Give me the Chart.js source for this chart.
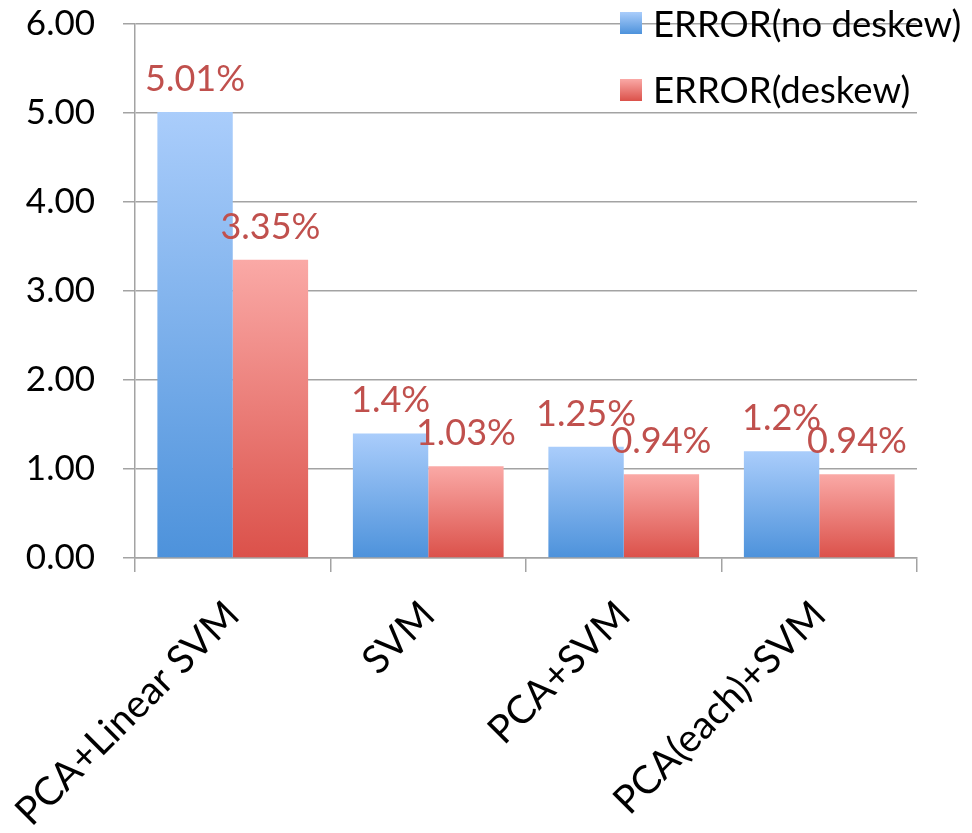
<!DOCTYPE html>
<html>
<head>
<meta charset="utf-8">
<script src="https://cdn.jsdelivr.net/npm/chart.js@4"></script>
<style>
  html, body { margin: 0; padding: 0; background: #ffffff; }
  #wrap { width: 972px; height: 833px; }
</style>
</head>
<body>
<div id="wrap"><canvas id="c" width="972" height="833"></canvas></div>
<script>
// Error rates (%) per classifier, without and with deskewing
const categories = ['PCA+Linear SVM', 'SVM', 'PCA+SVM', 'PCA(each)+SVM'];
const errorNoDeskew = [5.01, 1.4, 1.25, 1.2];
const errorDeskew = [3.35, 1.03, 0.94, 0.94];
const seriesNames = ['ERROR(no deskew)', 'ERROR(deskew)'];
const yTicks = [0, 1, 2, 3, 4, 5, 6];

const FONT = 'Lato, "Open Sans", sans-serif';
const palettes = [
  { top: '#aacdfb', bottom: '#4d92db' },
  { top: '#faa9a6', bottom: '#db514a' }
];
const labelColor = '#c0504d';
const gridColor = '#a3a3a3';

// vertical gradient from the top of each bar down to the baseline
function barFill(dsIndex) {
  return function (ctx) {
    const chart = ctx.chart;
    const area = chart.chartArea;
    if (!area || ctx.parsed === undefined) return palettes[dsIndex].bottom;
    const y = chart.scales.y;
    const top = y.getPixelForValue(ctx.parsed.y);
    const base = y.getPixelForValue(0);
    const g = chart.ctx.createLinearGradient(0, top, 0, base);
    g.addColorStop(0, palettes[dsIndex].top);
    g.addColorStop(1, palettes[dsIndex].bottom);
    return g;
  };
}

// percentage text above every bar
const valueLabels = {
  id: 'valueLabels',
  afterDatasetsDraw(chart) {
    const ctx = chart.ctx;
    ctx.save();
    ctx.font = '36px ' + FONT;
    ctx.fillStyle = labelColor;
    ctx.textAlign = 'center';
    ctx.textBaseline = 'alphabetic';
    chart.data.datasets.forEach((ds, i) => {
      chart.getDatasetMeta(i).data.forEach((bar, j) => {
        ctx.fillText(String(ds.data[j]) + '%', bar.x, bar.y - 21);
      });
    });
    ctx.restore();
  }
};

// legend drawn over the top right of the plot
const overlayLegend = {
  id: 'overlayLegend',
  afterDraw(chart) {
    const ctx = chart.ctx;
    ctx.save();
    ctx.font = '36.5px ' + FONT;
    ctx.textAlign = 'left';
    ctx.textBaseline = 'alphabetic';
    const rows = [{ box: 12, base: 37 }, { box: 79, base: 103 }];
    chart.data.datasets.forEach((ds, i) => {
      const r = rows[i];
      const g = ctx.createLinearGradient(0, r.box, 0, r.box + 22);
      g.addColorStop(0, palettes[i].top);
      g.addColorStop(1, palettes[i].bottom);
      ctx.fillStyle = g;
      ctx.fillRect(620, r.box, 22, 22);
      ctx.fillStyle = '#000000';
      ctx.fillText(ds.label, 653, r.base);
    });
    ctx.restore();
  }
};

new Chart(document.getElementById('c'), {
  type: 'bar',
  data: {
    labels: categories,
    datasets: [
      { label: seriesNames[0], data: errorNoDeskew, backgroundColor: barFill(0) },
      { label: seriesNames[1], data: errorDeskew, backgroundColor: barFill(1) }
    ]
  },
  options: {
    responsive: false,
    animation: false,
    devicePixelRatio: 1,
    layout: { padding: { left: 0, right: 55, top: 24, bottom: 0 } },
    datasets: { bar: { categoryPercentage: 0.771, barPercentage: 1.0 } },
    plugins: { legend: { display: false }, tooltip: { enabled: false } },
    scales: {
      x: {
        grid: { display: true, drawOnChartArea: false, drawTicks: true, tickLength: 14, color: gridColor, lineWidth: 1.5 },
        border: { display: true, color: gridColor, width: 1.5 },
        ticks: {
          autoSkip: false, minRotation: 45, maxRotation: 45, padding: 20,
          color: '#000000', font: { family: FONT, size: 39 }
        },
        afterFit(scale) {
          scale.height = 275;
          scale.paddingLeft = 0;
          scale.paddingRight = 0;
        }
      },
      y: {
        min: 0, max: 6,
        afterBuildTicks(scale) { scale.ticks = yTicks.map(v => ({ value: v })); },
        grid: { color: gridColor, lineWidth: 1.5, tickLength: 12 },
        border: { display: true, color: gridColor, width: 1.5 },
        ticks: {
          padding: 28, color: '#000000', font: { family: FONT, size: 35 },
          callback: v => Number(v).toFixed(2)
        },
        afterFit(scale) {
          scale.width = 135;
          scale.paddingTop = 0;
          scale.paddingBottom = 0;
        }
      }
    }
  },
  plugins: [valueLabels, overlayLegend]
});
</script>
</body>
</html>
